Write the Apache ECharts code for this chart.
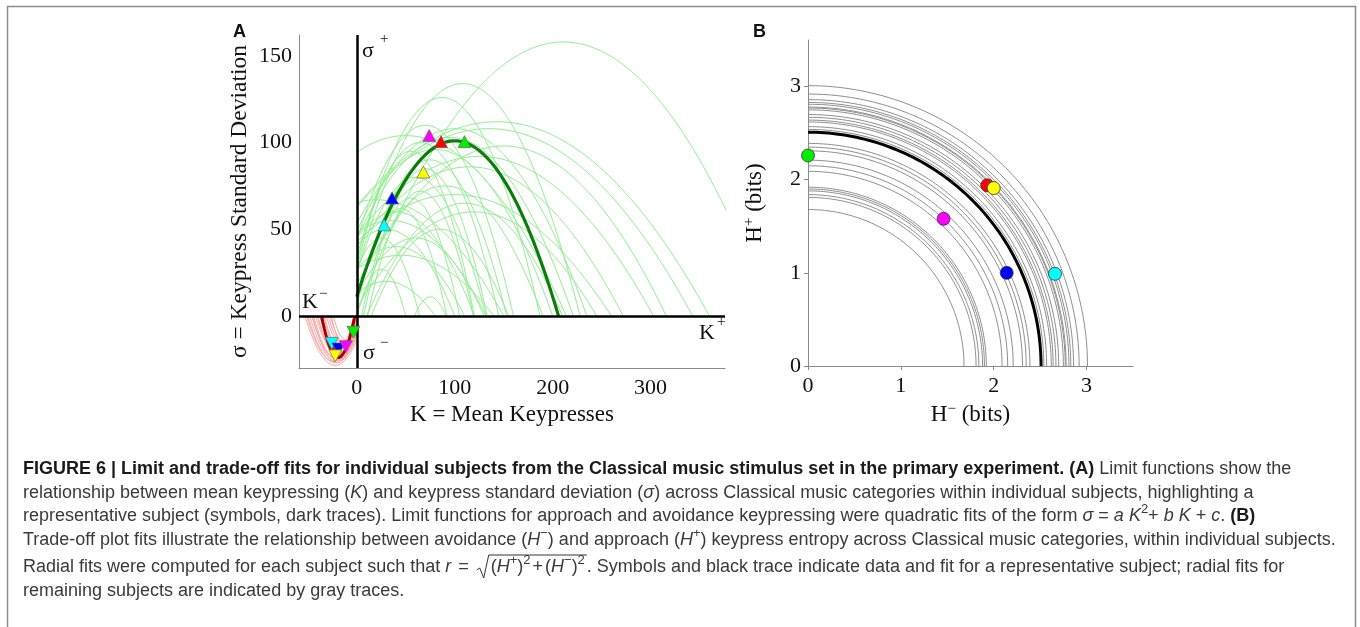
<!DOCTYPE html>
<html><head><meta charset="utf-8">
<script src="https://cdn.jsdelivr.net/npm/echarts@6/dist/echarts.min.js"></script>
<style>html,body{margin:0;padding:0;background:#fff}#c{width:1360px;height:627px}</style>
</head><body><div id="c"></div>
<script>
// ---------------- Panel A data ----------------
const kTicksA = [0, 100, 200, 300];
const sTicksA = [0, 50, 100, 150];
// approach (sigma+) quadratic fits, each as [vertex K, vertex sigma, right root K]
const approachFits = [
  [211,158,423],[143,112,360],[135,108,343],[150,98,316],[125,92,303],[115,86,272],
  [108,134,228],[87,126,187],[100,108,235],[95,103,221],[50,104,214],[80,96,200],
  [75,90,153],[70,85,133],[60,80,132],[65,72,119],[55,68,105],[45,62,92],
  [40,60,120],[35,55,132],[30,50,100],[25,45,64],[25,27,50],[75,11,91],
  [120,60,245],[90,75,190],[100,70,260],[60,45,130],[40,40,110],[85,50,155],
  [110,65,210],[70,110,160],[55,95,120],[20,67,150],[65,100,145],[30,20,80],[45,35,140]
];
// avoidance (sigma-) quadratic fits, each as [vertex K, vertex sigma, left root K]
const avoidFits = [
  [-22,-28.5,-53],[-22,-27,-50],[-21,-26,-48],[-20,-25,-46],[-22,-24,-44],[-18,-23,-42],
  [-20,-22,-40],[-17,-21,-38],[-19,-20,-37],[-16,-19,-34],[-18,-18,-33],[-15,-17,-31],
  [-14,-16,-29],[-13,-15,-27],[-24,-26,-51],[-15,-22,-35],[-12,-18,-26],[-20,-27,-45],
  [-11,-14,-24],[-17,-25,-40]
];
const repApproachFit = [100, 101, 206];
const repAvoidFit = [-19, -24, -36];
// representative subject's categories: cyan, blue, yellow, magenta, red, green
const markerColors = ['#00ffff', '#0000ff', '#ffff00', '#ff00ff', '#ff0000', '#00ee00'];
const approachK = [28, 36, 68, 74, 86, 110];
const approachS = [52.5, 68, 83, 104, 100.5, 100.5];
const avoidK = [-25.5, -18.7, -22, -11, -21, -3.4];
const avoidS = [-15.8, -19, -23, -17.7, -20.5, -9.4];

// ---------------- Panel B data ----------------
const hTicksB = [0, 1, 2, 3];
const grayRadii = [1.68,1.81,1.84,1.88,1.90,1.92,2.09,2.15,2.21,2.31,2.35,2.39,2.54,2.57,
  2.62,2.64,2.67,2.70,2.75,2.77,2.78,2.81,2.83,2.86,2.92,3.01];
const repRadius = 2.51;
const hMinus = [2.66, 2.14, 2.00, 1.46, 1.93, 0.00];
const hPlus  = [0.99, 1.00, 1.91, 1.58, 1.94, 2.26];

// ---------------- helpers ----------------
function approachCurve(f) {
  const [h, k, R] = f, a = k / ((R - h) * (R - h));
  const s = Math.max(0, 2 * h - R), pts = [];
  for (let i = 0; i <= 80; i++) { const K = s + (R - s) * i / 80; pts.push([K, k - a * (K - h) * (K - h)]); }
  return pts;
}
function avoidCurve(f) {
  const [h, k, L] = f, a = -k / ((h - L) * (h - L));
  const e = Math.min(0, 2 * h - L), pts = [];
  for (let i = 0; i <= 60; i++) { const K = L + (e - L) * i / 60; pts.push([K, k + a * (K - h) * (K - h)]); }
  return pts;
}
function arc(r) {
  const pts = [];
  for (let i = 0; i <= 90; i++) { const t = Math.PI / 2 * i / 90; pts.push([r * Math.cos(t), r * Math.sin(t)]); }
  return pts;
}
const serif = '"Liberation Serif", "DejaVu Serif", serif';
const sans = '"Liberation Sans", Arial, sans-serif';

function lineS(data, color, width, gi, z) {
  return { type: 'line', xAxisIndex: gi, yAxisIndex: gi, data: data, showSymbol: false, symbol: 'none',
    silent: true, z: z, lineStyle: { color: color, width: width }, animation: false };
}

const series = [];
approachFits.forEach(f => series.push(lineS(approachCurve(f), '#92ee92', 1, 0, 1)));
avoidFits.forEach(f => series.push(lineS(avoidCurve(f), '#f7a7a7', 1, 0, 1)));
series.push({ type: 'line', xAxisIndex: 0, yAxisIndex: 0, data: [], z: 2, silent: true, animation: false,
  markLine: { silent: true, symbol: 'none', animation: false, label: { show: false },
    lineStyle: { color: '#000', width: 2.5, type: 'solid' }, data: [{ xAxis: 0 }, { yAxis: 0 }] } });
series.push(lineS(approachCurve(repApproachFit), '#0a7d0a', 3.2, 0, 3));
series.push(lineS(avoidCurve(repAvoidFit), '#a80000', 3, 0, 3));

function pts(xs, ys, order) {
  return order.map(i => ({ value: [xs[i], ys[i]], itemStyle: { color: markerColors[i] } }));
}
series.push({ type: 'scatter', xAxisIndex: 0, yAxisIndex: 0, z: 5, silent: true, animation: false,
  symbol: 'triangle', symbolSize: [13, 12], itemStyle: { borderColor: '#666', borderWidth: 0.7, opacity: 1 },
  data: pts(approachK, approachS, [0, 1, 2, 3, 4, 5]) });
series.push({ type: 'scatter', xAxisIndex: 0, yAxisIndex: 0, z: 5, silent: true, animation: false,
  symbol: 'triangle', symbolRotate: 180, symbolSize: [13, 12], itemStyle: { borderColor: '#666', borderWidth: 0.7, opacity: 1 },
  data: pts(avoidK, avoidS, [4, 0, 1, 3, 2, 5]) });

grayRadii.forEach(r => series.push(lineS(arc(r), '#8e8e8e', 1, 1, 1)));
series.push(lineS(arc(repRadius), '#000', 3, 1, 3));
series.push({ type: 'scatter', xAxisIndex: 1, yAxisIndex: 1, z: 5, silent: true, animation: false,
  symbol: 'circle', symbolSize: 13, itemStyle: { borderColor: '#333', borderWidth: 0.8, opacity: 1 },
  data: pts(hMinus, hPlus, [4, 0, 1, 3, 2, 5]) });

const axisLbl = { fontFamily: serif, fontSize: 22, color: '#111' };
const titleRich = {
  n: { fontFamily: serif, fontSize: 23, color: '#111', lineHeight: 26 },
  s: { fontFamily: serif, fontSize: 15, color: '#111', verticalAlign: 'top', lineHeight: 14 }
};
const option = {
  animation: false,
  backgroundColor: '#fff',
  grid: [
    { left: 299, top: 35, width: 426, height: 333 },
    { left: 808, top: 40, width: 325, height: 326 }
  ],
  xAxis: [
    { gridIndex: 0, type: 'value', min: -59, max: 376,
      axisLine: { onZero: false, lineStyle: { color: '#8a8a8a', width: 1 } },
      axisTick: { show: false }, splitLine: { show: false },
      axisLabel: Object.assign({ customValues: kTicksA, margin: 9 }, axisLbl),
      name: 'K = Mean Keypresses', nameLocation: 'middle', nameGap: 23,
      nameTextStyle: { fontFamily: serif, fontSize: 23, color: '#111' } },
    { gridIndex: 1, type: 'value', min: 0, max: 3.5, interval: 1,
      axisLine: { onZero: false, lineStyle: { color: '#8a8a8a', width: 1 } },
      axisTick: { show: true, length: 4, lineStyle: { color: '#8a8a8a' }, customValues: hTicksB },
      splitLine: { show: false },
      axisLabel: Object.assign({ customValues: hTicksB, margin: 9 }, axisLbl),
      name: '{n|H}{s|−}{n| (bits)}', nameLocation: 'middle', nameGap: 32,
      nameTextStyle: { fontFamily: serif, fontSize: 23, color: '#111', rich: titleRich } }
  ],
  yAxis: [
    { gridIndex: 0, type: 'value', min: -30, max: 162,
      axisLine: { onZero: false, lineStyle: { color: '#8a8a8a', width: 1 } },
      axisTick: { show: false }, splitLine: { show: false },
      axisLabel: Object.assign({ customValues: sTicksA, margin: 7 }, axisLbl),
      name: 'σ = Keypress Standard Deviation', nameLocation: 'middle', nameGap: 47,
      nameTextStyle: { fontFamily: serif, fontSize: 23.5, color: '#111' } },
    { gridIndex: 1, type: 'value', min: 0, max: 3.5, interval: 1,
      axisLine: { onZero: false, lineStyle: { color: '#8a8a8a', width: 1 } },
      axisTick: { show: true, length: 4, lineStyle: { color: '#8a8a8a' }, customValues: hTicksB },
      splitLine: { show: false },
      axisLabel: Object.assign({ customValues: hTicksB, margin: 7 }, axisLbl),
      name: '{n|H}{s|+}{n| (bits)}', nameLocation: 'middle', nameGap: 40,
      nameTextStyle: { fontFamily: serif, fontSize: 23, color: '#111', rich: titleRich } }
  ],
  series: series,
  graphic: []
};

// ---------------- texts (panel labels, quadrant labels, caption) ----------------
const g = [];
g.push({ type: 'rect', silent: true, shape: { x: 7.5, y: 6.5, width: 1348, height: 660 },
  style: { fill: 'none', stroke: '#8c8c8c', lineWidth: 1.5 } });
function txt(x, y, text, font, color, align) {
  g.push({ type: 'text', silent: true, x: x, y: y, z: 10,
    style: { text: text, font: font, fill: color || '#111', textAlign: align || 'left', textVerticalAlign: 'middle', verticalAlign: 'middle' } });
}
txt(233, 32, 'A', 'bold 18px ' + sans, '#111');
txt(753, 32, 'B', 'bold 18px ' + sans, '#111');
txt(362, 51, 'σ', '22px ' + serif);
txt(380, 39, '+', '15px ' + serif);
txt(302, 302, 'K', '22px ' + serif);
txt(319, 294, '−', '15px ' + serif);
txt(699, 333, 'K', '22px ' + serif);
txt(717, 322, '+', '15px ' + serif);
txt(363, 353, 'σ', '22px ' + serif);
txt(380, 343, '−', '15px ' + serif);

// caption
const ctx = document.createElement('canvas').getContext('2d');
function fontOf(st, sz) {
  if (st === 'b') return 'bold ' + sz + 'px ' + sans;
  if (st === 'i') return 'italic ' + sz + 'px ' + sans;
  if (st === 'sup') return Math.round(sz * 0.74) + 'px ' + sans;
  return sz + 'px ' + sans;
}
function fragWidth(f, sz) {
  if (f[0] === 'sqrt') return 15;
  if (f[0] === 'gap') return f[1];
  if (f[0] === 'sqrtend') return 0;
  ctx.font = fontOf(f[0], sz); return ctx.measureText(f[1]).width;
}
const capLines = [
  [['b', 'FIGURE 6 | Limit and trade-off fits for individual subjects from the Classical music stimulus set in the primary experiment. (A)'], ['r', ' Limit functions show the']],
  [['r', 'relationship between mean keypressing ('], ['i', 'K'], ['r', ') and keypress standard deviation ('], ['i', 'σ'], ['r', ') across Classical music categories within individual subjects, highlighting a']],
  [['r', 'representative subject (symbols, dark traces). Limit functions for approach and avoidance keypressing were quadratic fits of the form '], ['i', 'σ'], ['r', ' = '], ['i', 'a K'], ['sup', '2'], ['r', '+ '], ['i', 'b K'], ['r', ' + '], ['i', 'c'], ['r', '. '], ['b', '(B)']],
  [['r', 'Trade-off plot fits illustrate the relationship between avoidance ('], ['i', 'H'], ['sup', '−'], ['r', ') and approach ('], ['i', 'H'], ['sup', '+'], ['r', ') keypress entropy across Classical music categories, within individual subjects.']],
  [['r', 'Radial fits were computed for each subject such that '], ['i', 'r'], ['gap', 7], ['r', '='], ['gap', 7], ['sqrt', ''], ['r', '('], ['i', 'H'], ['sup', '+'], ['r', ')'], ['sup', '2'], ['gap', 2], ['r', '+'], ['gap', 2], ['r', '('], ['i', 'H'], ['sup', '−'], ['r', ')'], ['sup', '2'], ['gap', 2], ['sqrtend', ''], ['r', '. Symbols and black trace indicate data and fit for a representative subject; radial fits for']],
  [['r', 'remaining subjects are indicated by gray traces.']]
];
const capY = [469, 493, 516, 540, 567, 591];
const capX = 23;
// choose the font size so that line 4 spans the same width as in the figure
let w16 = 0; capLines[3].forEach(f => w16 += fragWidth(f, 16));
const capSize = Math.max(13, Math.min(18, 16 * 1317 / w16));
capLines.forEach((line, li) => {
  let x = capX; const y = capY[li]; let sqrtX = null;
  line.forEach(f => {
    if (f[0] === 'gap') { x += f[1]; return; }
    if (f[0] === 'sqrt') {
      sqrtX = x;
      g.push({ type: 'polyline', silent: true, z: 10, shape: { points: [[x + 1, y + 3], [x + 4, y + 1], [x + 8, y + 11], [x + 13, y - 12]] },
        style: { stroke: '#333', lineWidth: 1, fill: 'none' } });
      x += 15; return;
    }
    if (f[0] === 'sqrtend') {
      g.push({ type: 'line', silent: true, z: 10, shape: { x1: sqrtX + 13, y1: y - 12, x2: x, y2: y - 12 },
        style: { stroke: '#333', lineWidth: 1 } });
      return;
    }
    const isSup = f[0] === 'sup';
    const col = f[0] === 'b' ? '#1a1a1a' : '#3a3a3a';
    txt(x, isSup ? y - capSize * 0.38 : y, f[1], fontOf(f[0], capSize), col);
    x += fragWidth(f, capSize);
  });
});
option.graphic = g;

const chart = echarts.init(document.getElementById('c'), null, { renderer: 'canvas' });
chart.setOption(option);
</script>
</body></html>
